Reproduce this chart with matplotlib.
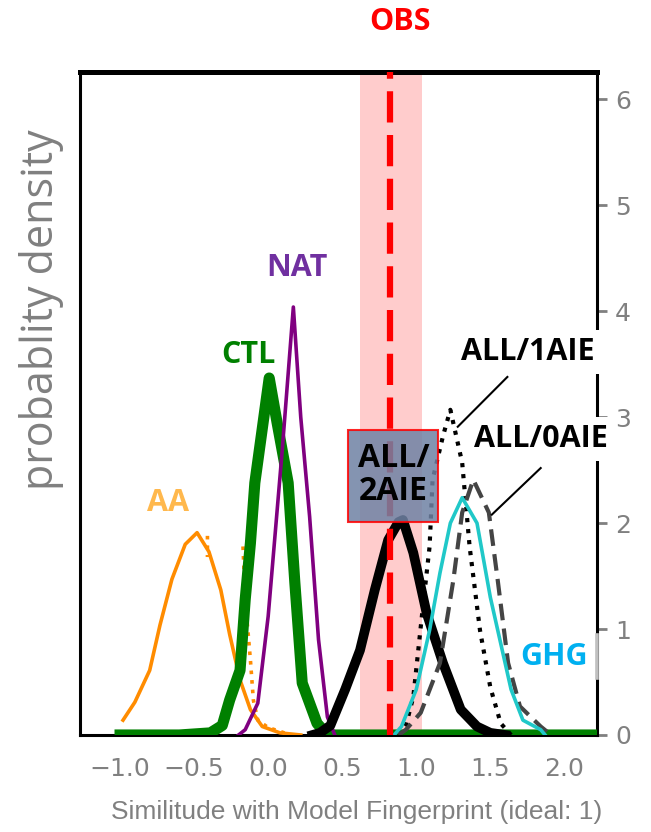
import numpy as np
import matplotlib
matplotlib.use('Agg')
import matplotlib.pyplot as plt
from matplotlib.patches import Rectangle

# ---- data ----
aa_x = [-0.98, -0.90, -0.80, -0.73, -0.65, -0.56, -0.48, -0.40, -0.32, -0.26, -0.19, -0.12, -0.04, 0.08, 0.22]
aa_y = [0.14, 0.31, 0.61, 1.04, 1.47, 1.80, 1.91, 1.73, 1.37, 0.95, 0.52, 0.24, 0.08, 0.02, 0.0]

aa2_x = [-0.41, -0.41, np.nan, -0.17, -0.155, -0.12, -0.10, -0.07, 0.0, 0.11]
aa2_y = [1.88, 1.68, np.nan, 1.78, 1.28, 0.71, 0.33, 0.14, 0.07, 0.02]

ctl_x = [-1.0, -0.60, -0.39, -0.31, -0.26, -0.19, -0.155, -0.12, -0.09, 0.007, 0.06, 0.135, 0.18, 0.23, 0.33, 0.40, 1.0, 2.2]
ctl_y = [0.0, 0.0, 0.02, 0.09, 0.33, 0.61, 1.28, 1.81, 2.38, 3.37, 2.95, 2.38, 1.44, 0.49, 0.11, 0.0, 0.0, 0.0]

nat_x = [-0.20, -0.155, -0.07, 0.0, 0.095, 0.17, 0.22, 0.28, 0.34, 0.40, 0.45]
nat_y = [0.0, 0.05, 0.30, 1.12, 2.69, 4.04, 3.00, 2.06, 0.90, 0.17, 0.0]

all2_x = [0.30, 0.35, 0.42, 0.52, 0.62, 0.72, 0.81, 0.88, 0.91, 0.98, 1.07, 1.18, 1.30, 1.41, 1.50, 1.60]
all2_y = [0.0, 0.02, 0.09, 0.43, 0.80, 1.37, 1.84, 2.01, 2.03, 1.72, 1.15, 0.68, 0.24, 0.08, 0.02, 0.0]

all1_x = [0.88, 0.93, 0.98, 1.04, 1.09, 1.11, 1.18, 1.23, 1.31, 1.36, 1.43, 1.50, 1.57, 1.64]
all1_y = [0.0, 0.09, 0.36, 1.15, 1.78, 2.41, 2.82, 3.07, 2.57, 1.78, 0.99, 0.45, 0.11, 0.0]

all0_x = [0.88, 0.93, 1.03, 1.16, 1.25, 1.31, 1.385, 1.49, 1.55, 1.62, 1.70, 1.84, 1.91]
all0_y = [0.0, 0.05, 0.21, 0.68, 1.46, 2.10, 2.41, 2.10, 1.46, 0.68, 0.27, 0.08, 0.0]

ghg_x = [0.85, 0.90, 1.0, 1.09, 1.16, 1.23, 1.31, 1.41, 1.50, 1.64, 1.72, 1.84, 1.87]
ghg_y = [0.0, 0.08, 0.43, 0.99, 1.53, 2.00, 2.24, 2.00, 1.30, 0.43, 0.14, 0.05, 0.0]

obs_val = 0.82
obs_lo, obs_hi = 0.62, 1.04

xticks = [-1.0, -0.5, 0.0, 0.5, 1.0, 1.5, 2.0]
yticks = [0, 1, 2, 3, 4, 5, 6]

fig = plt.figure(figsize=(6.51, 8.32), dpi=100)
ax = fig.add_axes([0.123, 0.1166, 0.794, 0.797])

ax.axvspan(obs_lo, obs_hi, color='#ffcccc', zorder=1, lw=0)

ax.plot(aa_x, aa_y, color='#ff8c00', lw=2.6, zorder=3)
ax.plot(aa2_x, aa2_y, color='#ff8c00', lw=2.6, ls=':', zorder=3)
ax.plot(ctl_x, ctl_y, color='#008000', lw=8, zorder=3, solid_joinstyle='round')
ax.plot(nat_x, nat_y, color='#800080', lw=2.6, zorder=3)
ax.plot(all2_x, all2_y, color='black', lw=7, zorder=3)
ax.plot(all1_x, all1_y, color='black', lw=3, ls=':', zorder=3)
ax.plot(all0_x, all0_y, color='#444444', lw=3, ls=(0, (4, 2)), zorder=3)
ax.plot(ghg_x, ghg_y, color='#20c8c8', lw=2.6, zorder=3)

ax.axvline(obs_val, color='red', lw=4.5, ls=(0, (5, 2)), zorder=4)

# ALL/2AIE box
ax.add_patch(Rectangle((0.54, 2.01), 0.61, 0.87, facecolor='#6f82a4', alpha=0.85,
                       edgecolor='red', lw=1.5, zorder=5))
ax.text(0.845, 2.45, 'ALL/\n2AIE', ha='center', va='center', fontsize=23,
        fontweight='bold', family='Open Sans', color='black', zorder=6, linespacing=1.0)

lab = dict(fontsize=22, fontweight='bold', family='Open Sans', ha='center', va='center', zorder=6)
ax.text(-0.676, 2.19, 'AA', color='#ffb84d', **lab)
ax.text(-0.135, 3.59, 'CTL', color='#008000', **lab)
ax.text(0.196, 4.41, 'NAT', color='#7030a0', **lab)
ax.text(1.93, 0.74, 'GHG', color='#00b0f0', **lab)
ax.text(1.75, 3.62, 'ALL/1AIE', color='black', clip_on=False,
        bbox=dict(facecolor='white', edgecolor='none', pad=5), **lab)
ax.text(1.845, 2.79, 'ALL/0AIE', color='black', clip_on=False,
        bbox=dict(facecolor='white', edgecolor='none', pad=5), **lab)
ax.plot([1.615, 1.28], [3.38, 2.91], color='black', lw=1.5, zorder=6)
ax.plot([1.84, 1.51], [2.52, 2.08], color='black', lw=1.5, zorder=6)

fig.text(400 / 651, 1 - 22 / 832, 'OBS', color='red', fontsize=22, fontweight='bold',
         family='Open Sans', ha='center', va='center')

ax.set_xlim(-1.27, 2.22)
ax.set_ylim(0, 6.26)
ax.set_xticks(xticks)
ax.set_yticks(yticks)
ax.yaxis.tick_right()
ax.tick_params(axis='x', length=0, labelsize=18, labelcolor='gray', pad=16)
ax.tick_params(axis='y', length=7, width=2, color='gray', labelsize=18, labelcolor='gray', pad=6)

for s in ['left', 'right', 'bottom']:
    ax.spines[s].set_linewidth(2.2)
ax.spines['top'].set_linewidth(3.6)

# grey mark on the right spine beside GHG
ax.plot([2.22, 2.22], [0.54, 0.94], color='#c0c0c0', lw=2.6, zorder=7, clip_on=False)

fig.text(42 / 651, 1 - 310 / 832, 'probablity density', rotation=90, fontsize=31,
         color='gray', family='Open Sans', ha='center', va='center')
fig.text(357 / 651, 1 - 812 / 832, 'Similitude with Model Fingerprint (ideal: 1)', fontsize=19,
         color='gray', family='Liberation Sans', ha='center', va='center')

fig.savefig('out.png', dpi=100)
